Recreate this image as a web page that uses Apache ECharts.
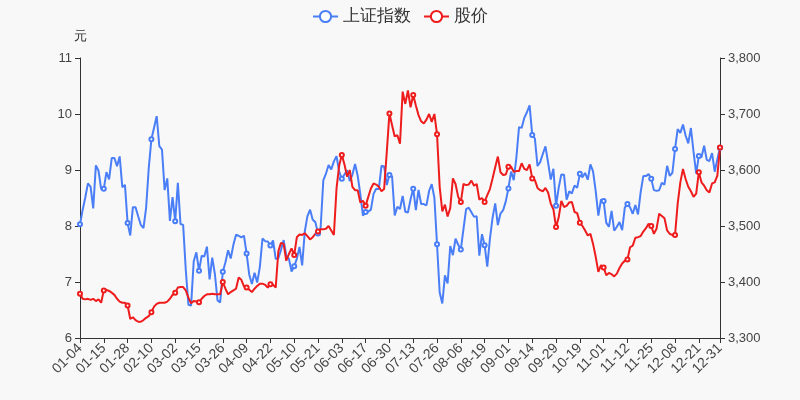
<!DOCTYPE html>
<html>
<head>
<meta charset="utf-8">
<script src="https://cdn.jsdelivr.net/npm/echarts@6/dist/echarts.min.js"></script>
<style>
html,body{margin:0;padding:0;background:#f8f8f8;}
#main{width:800px;height:400px;}
</style>
</head>
<body>
<div id="main"></div>
<script>
var dates = [
'01-04','01-05','01-06','01-07','01-08','01-11','01-12','01-13','01-14','01-15','01-18','01-19','01-20','01-21','01-22','01-25','01-26','01-27','01-28','01-29',
'02-01','02-02','02-03','02-04','02-05','02-08','02-09','02-10','02-18','02-19','02-22','02-23','02-24','02-25','02-26',
'03-01','03-02','03-03','03-04','03-05','03-08','03-09','03-10','03-11','03-12','03-15','03-16','03-17','03-18','03-19','03-22','03-23','03-24','03-25','03-26','03-29','03-30','03-31',
'04-01','04-02','04-06','04-07','04-08','04-09','04-12','04-13','04-14','04-15','04-16','04-19','04-20','04-21','04-22','04-23','04-26','04-27','04-28','04-29','04-30',
'05-06','05-07','05-10','05-11','05-12','05-13','05-14','05-17','05-18','05-19','05-20','05-21','05-24','05-25','05-26','05-27','05-28','05-31',
'06-01','06-02','06-03','06-04','06-07','06-08','06-09','06-10','06-11','06-15','06-16','06-17','06-18','06-21','06-22','06-23','06-24','06-25','06-28','06-29','06-30',
'07-01','07-02','07-05','07-06','07-07','07-08','07-09','07-12','07-13','07-14','07-15','07-16','07-19','07-20','07-21','07-22','07-23','07-26','07-27','07-28','07-29','07-30',
'08-02','08-03','08-04','08-05','08-06','08-09','08-10','08-11','08-12','08-13','08-16','08-17','08-18','08-19','08-20','08-23','08-24','08-25','08-26','08-27','08-30','08-31',
'09-01','09-02','09-03','09-06','09-07','09-08','09-09','09-10','09-13','09-14','09-15','09-16','09-17','09-22','09-23','09-24','09-27','09-28','09-29','09-30',
'10-08','10-11','10-12','10-13','10-14','10-15','10-18','10-19','10-20','10-21','10-22','10-25','10-26','10-27','10-28','10-29',
'11-01','11-02','11-03','11-04','11-05','11-08','11-09','11-10','11-11','11-12','11-15','11-16','11-17','11-18','11-19','11-22','11-23','11-24','11-25','11-26','11-29','11-30',
'12-01','12-02','12-03','12-06','12-07','12-08','12-09','12-10','12-13','12-14','12-15','12-16','12-17','12-20','12-21','12-22','12-23','12-24','12-27','12-28','12-29','12-30','12-31'
];

var indexValues = [
3502.96,3528.68,3550.88,3576.20,3570.11,3531.50,3608.34,3598.65,3565.90,3566.38,3596.22,3583.09,3621.26,3621.39,3606.75,3624.24,3569.43,3573.34,3505.18,3483.07,
3533.68,3533.31,3517.31,3501.86,3496.33,3532.44,3603.49,3655.09,3675.36,3696.17,3642.44,3636.36,3564.08,3585.05,3509.08,
3551.40,3508.59,3576.90,3503.49,3501.99,3421.41,3359.29,3357.74,3436.83,3453.08,3419.95,3446.73,3445.55,3463.07,3404.66,3443.44,3414.30,3367.06,3363.59,3418.33,3435.30,3456.68,3441.91,
3466.33,3484.39,3482.58,3479.64,3482.56,3450.68,3412.95,3396.47,3416.40,3398.99,3426.62,3477.55,3472.94,3472.30,3465.11,3474.17,3441.17,3442.61,3457.07,3474.90,3446.86,
3441.28,3418.87,3427.99,3441.85,3462.75,3429.54,3490.38,3517.62,3529.01,3510.96,3506.94,3486.56,3497.28,3581.34,3593.36,3608.85,3600.78,3615.48,
3624.71,3597.14,3584.22,3591.84,3599.54,3580.11,3591.40,3610.86,3589.75,3556.56,3518.33,3525.10,3525.60,3529.18,3557.41,3566.65,3566.22,3607.56,3606.37,3573.18,3591.20,
3588.78,3518.76,3534.32,3530.26,3553.72,3525.50,3524.09,3547.84,3566.73,3528.50,3564.59,3539.30,3539.12,3536.79,3562.52,3574.73,3550.40,3467.44,3381.18,3361.59,3411.72,3397.36,
3464.29,3447.99,3477.22,3466.56,3458.23,3494.63,3529.93,3532.62,3524.74,3516.30,3517.34,3446.98,3485.29,3465.55,3427.33,3477.13,3514.47,3540.38,3501.66,3522.16,3528.15,3543.94,
3567.10,3597.04,3581.73,3621.86,3676.59,3675.19,3693.13,3703.11,3715.37,3662.60,3656.22,3607.09,3613.97,3628.49,3642.22,3613.07,3582.83,3602.22,3536.29,3568.17,
3592.17,3591.71,3546.94,3561.76,3558.28,3572.37,3568.14,3593.15,3587.00,3594.78,3582.60,3609.86,3597.64,3562.31,3518.42,3547.34,
3544.48,3505.63,3498.54,3526.87,3491.57,3498.63,3507.00,3492.46,3532.79,3539.10,3533.30,3521.79,3537.37,3520.71,3560.37,3589.09,3589.14,3592.70,3584.18,3564.09,3562.70,3563.89,
3576.89,3573.84,3607.43,3589.31,3595.09,3637.57,3673.04,3666.35,3681.08,3661.53,3647.63,3675.02,3632.36,3593.60,3625.13,3622.62,3643.34,3618.05,3615.97,3630.11,3597.00,3619.19,3639.78
];

var priceValues = [
6.79,6.70,6.69,6.70,6.68,6.70,6.66,6.69,6.63,6.85,6.86,6.84,6.81,6.77,6.70,6.65,6.63,6.63,6.58,6.34,
6.37,6.32,6.29,6.29,6.32,6.36,6.39,6.46,6.56,6.61,6.63,6.63,6.63,6.65,6.70,
6.77,6.81,6.90,6.91,6.91,6.85,6.72,6.62,6.66,6.65,6.64,6.70,6.75,6.78,6.78,6.79,6.78,6.78,6.78,7.00,6.88,6.78,6.82,
6.85,6.88,7.08,7.04,6.92,6.90,6.86,6.82,6.88,6.93,6.97,6.97,6.95,6.90,6.96,6.95,6.90,7.55,7.70,7.68,7.38,
7.50,7.60,7.48,7.80,7.85,7.84,7.87,7.82,7.76,7.80,7.86,7.90,7.94,7.94,7.95,8.00,7.92,7.84,
8.67,9.08,9.27,9.10,8.88,9.00,8.70,8.64,8.64,8.42,8.45,8.36,8.52,8.67,8.76,8.74,8.70,8.62,8.66,9.32,10.01,
9.80,9.60,9.62,9.47,10.40,10.18,10.42,10.12,10.34,10.15,9.98,9.87,9.83,9.90,10.00,9.86,10.00,9.64,8.70,8.26,8.38,8.17,
8.32,8.85,8.75,8.52,8.43,8.75,8.73,8.74,8.81,8.72,8.75,8.47,8.50,8.43,8.55,8.66,8.85,9.05,9.24,8.96,8.91,8.92,
9.06,9.06,8.97,8.98,8.98,9.12,9.02,9.00,9.10,8.85,8.82,8.68,8.64,8.62,8.68,8.60,8.40,8.30,7.98,8.15,
8.45,8.34,8.36,8.42,8.43,8.25,8.23,8.06,8.00,7.92,7.83,7.86,7.68,7.45,7.18,7.30,
7.26,7.12,7.16,7.14,7.10,7.15,7.25,7.33,7.38,7.40,7.62,7.65,7.79,7.80,7.82,7.90,7.96,8.04,8.00,7.86,7.95,8.22,
8.18,8.14,7.92,7.86,7.84,7.84,8.40,8.78,9.02,8.84,8.70,8.62,8.52,8.58,8.96,8.78,8.72,8.64,8.60,8.76,8.78,8.90,9.40
];

var seriesNames = ['上证指数', '股价'];
var leftTicks = {min: 6, max: 11, interval: 1};
var rightTicks = {min: 3300, max: 3800, interval: 100};

var lastIdx = dates.length - 1;
function showIdx(i) { return i % 9 === 0 || i === lastIdx; }

var chart = echarts.init(document.getElementById('main'));
chart.setOption({
  backgroundColor: '#f8f8f8',
  animation: false,
  legend: {
    top: 3,
    left: 'center',
    itemWidth: 25,
    itemHeight: 14,
    itemGap: 12,
    textStyle: {fontSize: 17, color: '#333'},
    data: seriesNames
  },
  grid: {left: 80, right: 80, top: 58, bottom: 62},
  xAxis: {
    type: 'category',
    data: dates,
    boundaryGap: false,
    axisLine: {lineStyle: {color: '#333'}},
    axisTick: {interval: function(i){ return showIdx(i); }, lineStyle: {color: '#333'}},
    axisLabel: {interval: function(i){ return showIdx(i); }, rotate: 45, fontSize: 14, margin: 8, color: '#444'}
  },
  yAxis: [
    {
      type: 'value',
      name: '元',
      nameTextStyle: {color: '#333', fontSize: 13, align: 'center'},
      min: leftTicks.min, max: leftTicks.max, interval: leftTicks.interval,
      axisLine: {show: true, lineStyle: {color: '#333'}},
      axisTick: {show: true},
      splitLine: {show: false},
      axisLabel: {fontSize: 13, color: '#444'}
    },
    {
      type: 'value',
      min: rightTicks.min, max: rightTicks.max, interval: rightTicks.interval,
      axisLine: {show: true, lineStyle: {color: '#333'}},
      axisTick: {show: true},
      splitLine: {show: false},
      axisLabel: {fontSize: 13, color: '#444'}
    }
  ],
  series: [
    {
      name: seriesNames[0],
      type: 'line',
      yAxisIndex: 1,
      data: indexValues,
      symbol: 'emptyCircle',
      symbolSize: 4,
      itemStyle: {color: '#4a7ef7'},
      lineStyle: {width: 2, color: '#4a7ef7'}
    },
    {
      name: seriesNames[1],
      type: 'line',
      yAxisIndex: 0,
      data: priceValues,
      symbol: 'emptyCircle',
      symbolSize: 4,
      itemStyle: {color: '#ee1c1c'},
      lineStyle: {width: 2, color: '#ee1c1c'}
    }
  ]
});
</script>
</body>
</html>
